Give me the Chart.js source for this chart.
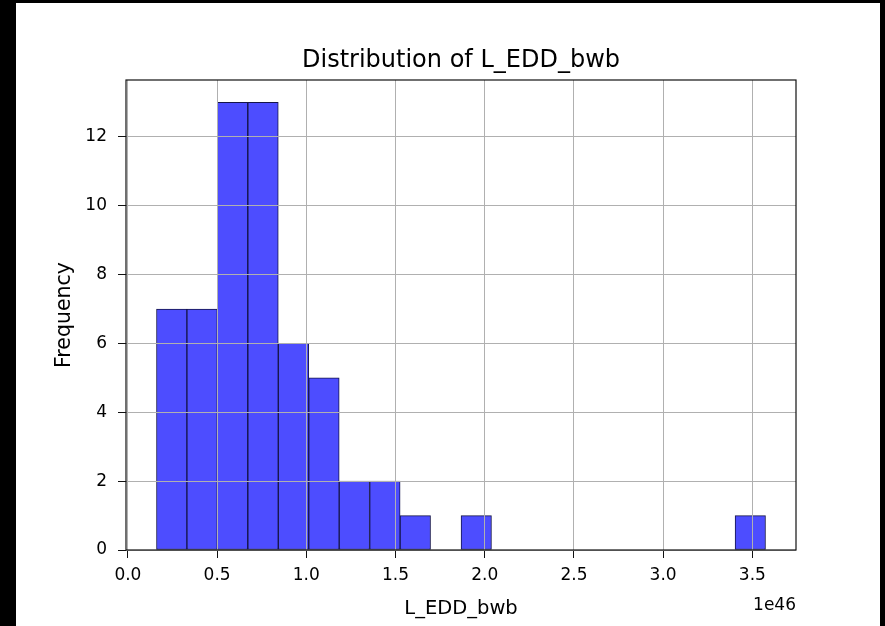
<!DOCTYPE html>
<html><head><meta charset="utf-8">
<script src="https://cdn.jsdelivr.net/npm/chart.js@4/dist/chart.umd.min.js"></script>
<style>html,body{margin:0;padding:0;background:#000;overflow:hidden;} canvas{display:block;}</style>
</head><body>
<canvas id="c" width="885" height="626"></canvas>
<script>
// ---- data ----
const binEdges = [0.160, 0.331, 0.501, 0.672, 0.843, 1.014, 1.184, 1.355, 1.526, 1.696,
                  1.867, 2.038, 2.208, 2.379, 2.550, 2.721, 2.891, 3.062, 3.233, 3.403, 3.574];
const counts   = [7, 7, 13, 13, 6, 5, 2, 2, 1, 0, 1, 0, 0, 0, 0, 0, 0, 0, 0, 1];
const xTickValues = [0, 0.5, 1, 1.5, 2, 2.5, 3, 3.5];
const xTickLabels = ['0.0', '0.5', '1.0', '1.5', '2.0', '2.5', '3.0', '3.5'];
const yTickValues = [0, 2, 4, 6, 8, 10, 12];
const xRange = [-0.0107, 3.7447];
const yRange = [0, 13.65];
const xOffsetLabel = '1e46';
const titleText = 'Distribution of L_EDD_bwb';
const xTitle = 'L_EDD_bwb';
const yTitle = 'Frequency';

const points = counts.map((c, i) => ({ x: (binEdges[i] + binEdges[i + 1]) / 2, y: c }));

Chart.defaults.font.family = '"DejaVu Sans", sans-serif';
Chart.defaults.color = '#000';

const framePlugin = {
  id: 'frame',
  beforeDraw(chart) {
    const ctx = chart.ctx;
    ctx.save();
    ctx.fillStyle = '#000';
    ctx.fillRect(0, 0, chart.width, chart.height);
    ctx.fillStyle = '#fff';
    ctx.fillRect(16, 3, 864, 623);
    ctx.restore();
  },
  afterDraw(chart) {
    const { ctx, chartArea: a } = chart;
    ctx.save();
    ctx.strokeStyle = '#111';
    ctx.lineWidth = 1.2;
    ctx.strokeRect(a.left, a.top, a.right - a.left, a.bottom - a.top);
    ctx.font = '17px "DejaVu Sans"';
    ctx.fillStyle = '#000';
    ctx.textAlign = 'right';
    ctx.textBaseline = 'middle';
    ctx.fillText(xOffsetLabel, a.right, a.bottom + 56);
    ctx.restore();
  }
};

new Chart(document.getElementById('c'), {
  type: 'bar',
  data: {
    datasets: [{
      data: points,
      backgroundColor: '#4d4dff',
      borderColor: '#15154a',
      borderWidth: 1,
      borderSkipped: false,
      barPercentage: 1,
      categoryPercentage: 1
    }]
  },
  options: {
    responsive: false,
    animation: false,
    devicePixelRatio: 1,
    layout: { padding: { top: 46, right: 89, bottom: 0, left: 0 } },
    plugins: {
      legend: { display: false },
      tooltip: { enabled: false },
      title: {
        display: true,
        text: titleText,
        fullSize: false,
        color: '#000',
        font: { size: 24, weight: 'normal' },
        padding: { top: 0, bottom: 5.2 }
      }
    },
    scales: {
      x: {
        type: 'linear',
        min: xRange[0],
        max: xRange[1],
        offset: false,
        afterBuildTicks: s => { s.ticks = xTickValues.map(v => ({ value: v })); },
        afterFit: s => { s.height = 76; },
        ticks: {
          autoSkip: false,
          maxRotation: 0,
          padding: 7,
          color: '#000',
          font: { size: 17 },
          callback: v => xTickLabels[xTickValues.indexOf(v)]
        },
        grid: { offset: false, color: '#b0b0b0', lineWidth: 1, tickLength: 8, tickColor: '#111', tickWidth: 1, z: 1 },
        border: { display: false },
        title: {
          display: true,
          text: xTitle,
          color: '#000',
          font: { size: 19.5 },
          padding: { top: 5.3, bottom: 5.3 }
        }
      },
      y: {
        type: 'linear',
        min: yRange[0],
        max: yRange[1],
        afterBuildTicks: s => { s.ticks = yTickValues.map(v => ({ value: v })); },
        afterFit: s => { s.width = 126; },
        ticks: {
          padding: 11,
          color: '#000',
          font: { size: 17 },
          callback: v => String(v)
        },
        grid: { color: '#b0b0b0', lineWidth: 1, tickLength: 8, tickColor: '#111', tickWidth: 1, z: 1 },
        border: { display: false },
        title: {
          display: true,
          text: yTitle,
          color: '#000',
          font: { size: 20.5 },
          padding: { top: 52.5, bottom: 52.5 }
        }
      }
    }
  },
  plugins: [framePlugin]
});
</script>
</body></html>
